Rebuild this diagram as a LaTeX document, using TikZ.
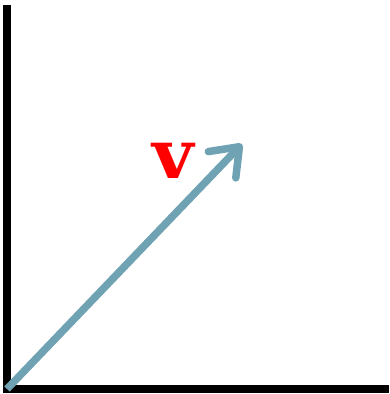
\documentclass[tikz,border=0pt]{standalone}
\usepackage{xcolor}
\usepackage{fontspec}
\usepackage{tikz}
\usetikzlibrary{arrows.meta, positioning, calc}
\newfontfamily\labelfont{DejaVu Serif}
\definecolor{VecBlue}{RGB}{111, 162, 178}
\definecolor{VecRed}{RGB}{255, 0, 0}

\begin{document}
\begin{tikzpicture}[x=1pt, y=1pt,
    axisline/.style={draw=black, line width=8pt},
    vecline/.style={draw=VecBlue, line width=7.5pt,
      -{Straight Barb[length=25pt, width=38pt, round]}}
  ]
    \useasboundingbox (0,0) rectangle (389,394);
    \coordinate (origin) at (7,5);
    \coordinate (ytop) at (7,389);
    \coordinate (ybot) at (7,1);
    \coordinate (xleft) at (3,5);
    \coordinate (xright) at (389,5);
    \coordinate (tip) at (242,250);
    \draw[axisline] (ybot) -- (ytop);
    \draw[axisline] (xleft) -- (xright);
    \draw[vecline] (origin) -- (tip);
    \node[text=VecRed, inner sep=0pt, xscale=1.05] (vlabel) at (173,233)
      {\fontsize{68}{72}\selectfont\labelfont\bfseries v};
  \end{tikzpicture}
\end{document}
